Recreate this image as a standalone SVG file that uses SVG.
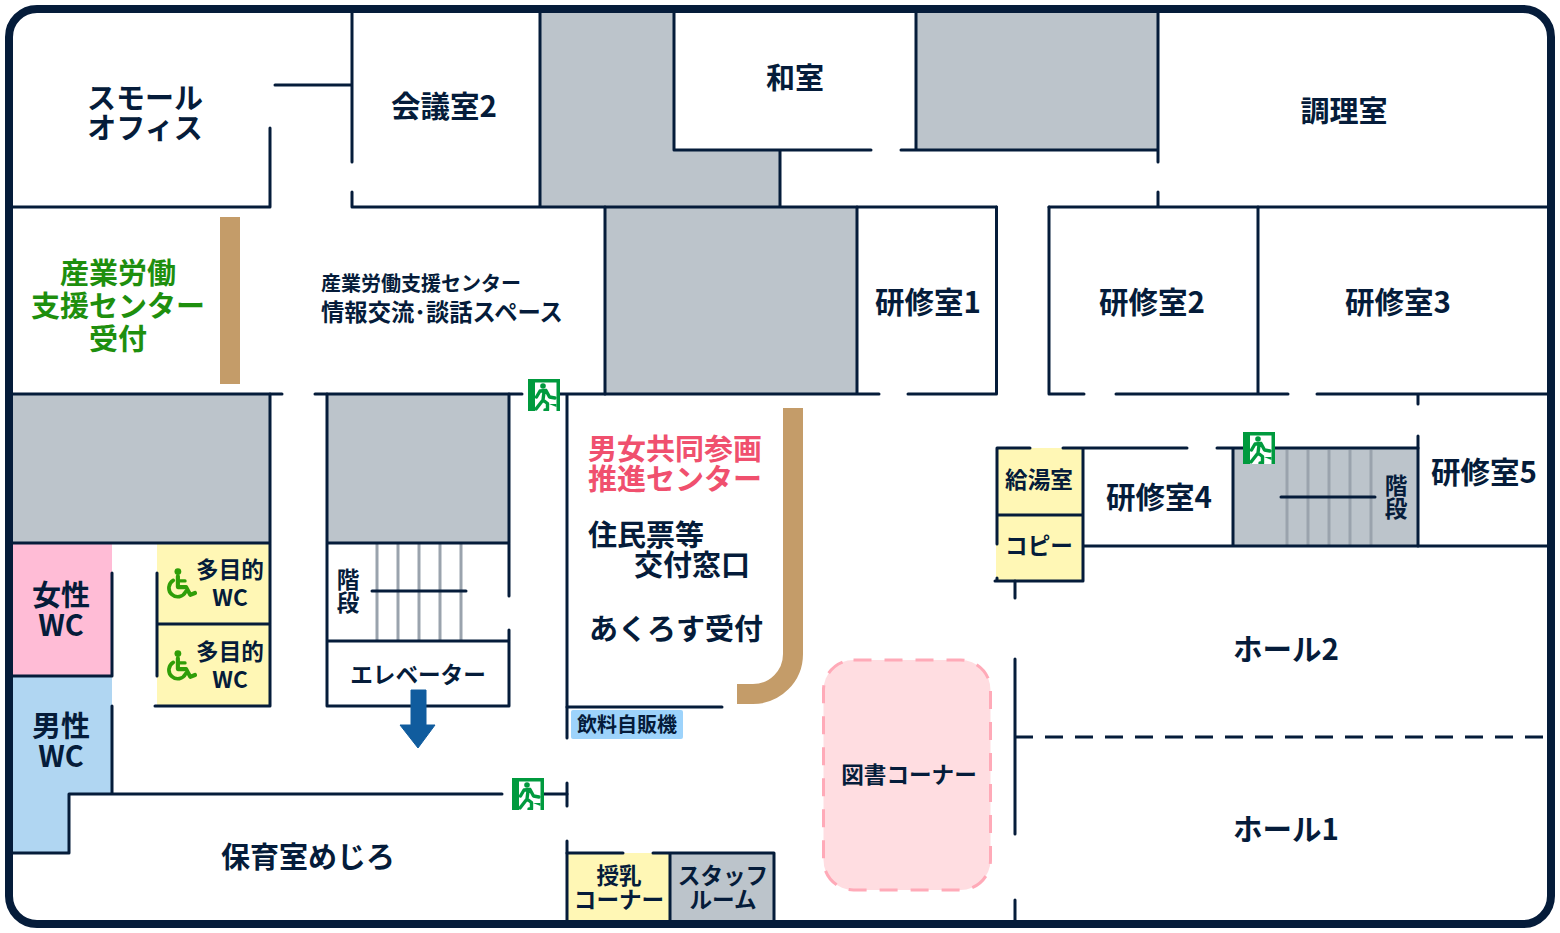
<svg xmlns="http://www.w3.org/2000/svg" width="1560" height="933" viewBox="0 0 1560 933">
<defs>
<style>
text{font-family:"Noto Sans CJK JP","Noto Sans",sans-serif;font-weight:700;fill:#051c3a;text-anchor:middle}
.w{stroke:#051c3a;stroke-width:3;stroke-linecap:round;fill:none}
.s{stroke:#9aa3ad;stroke-width:3;fill:none}
.g{fill:#bcc4cb}.y{fill:#fff7b5}
.t28{font-size:29px}.n28{font-size:29.500px}.t22{font-size:22.600px}.t20{font-size:20px}.t18{font-size:20px}
.gr{fill:#1e8f0e}.pk{fill:#f0506e}
</style>
<symbol id="exit" viewBox="0 0 32 32">
<rect width="32" height="32" fill="#009a3e"/>
<path d="M7 32V3.500H28.500V32z" fill="#fff"/>
<circle cx="15" cy="7" r="2.800" fill="#009a3e"/>
<path d="M18 11.500l-6 .5-3.500 6M18 11.500l3.500 6.500 5.500 1M16 13l-1 8 4.500 3.500V31h-2.500M15 21l-3.500 4.500L8 30" fill="none" stroke="#009a3e" stroke-width="3.400" stroke-linecap="round" stroke-linejoin="round"/>
<path d="M21 25h7.500v3z" fill="#009a3e"/>
</symbol>
<symbol id="wheel" viewBox="0 0 30 30">
<circle cx="11.500" cy="3.500" r="3.300" fill="#2f9e08"/>
<path d="M11.500 8v10.500h8l4 7.500 4.500-1.800" fill="none" stroke="#2f9e08" stroke-width="4" stroke-linecap="round" stroke-linejoin="round"/>
<path d="M11.500 12.500h7" fill="none" stroke="#2f9e08" stroke-width="3" stroke-linecap="round"/>
<path d="M7 12a8.500 8.500 0 1 0 12 11" fill="none" stroke="#2f9e08" stroke-width="3.600" stroke-linecap="round"/>
</symbol>
</defs>
<rect width="1560" height="933" fill="#fff"/>
<g id="fills">
<path class="g" d="M540 9H674V150H780V207H540z"/>
<rect class="g" x="916" y="9" width="242" height="141"/>
<rect class="g" x="605" y="207" width="252" height="187"/>
<rect class="g" x="9" y="394" width="261" height="149"/>
<rect class="g" x="327" y="394" width="182" height="149"/>
<rect fill="#ffbcd6" x="9" y="543" width="103" height="133"/>
<path fill="#b0d6f2" d="M9 676H112V794H69V853H9z"/>
<rect class="y" x="157" y="543" width="113" height="163"/>
<rect class="y" x="996" y="448" width="87" height="133"/>
<rect class="g" x="1233" y="448" width="185" height="98"/>
<rect class="y" x="567" y="853" width="103" height="67"/>
<rect class="g" x="670" y="853" width="104" height="67"/>
<rect fill="#c49c69" x="220" y="217" width="20" height="167"/>
<path d="M793 408V654A40 40 0 0 1 753 694H737" fill="none" stroke="#c49c69" stroke-width="20"/>
</g>
<g id="library"><rect x="823.500" y="660" width="167" height="230" rx="30" fill="#ffdde1" stroke="#ffaab8" stroke-width="3" stroke-dasharray="18 13"/></g>
<g id="vending"><rect x="571" y="710" width="112" height="29" rx="2" fill="#9dd3fb"/></g>
<g id="stairs" class="s"><path d="M377 544V640M398 544V640M419 544V640M440 544V640M461 544V640M1287 450V545M1308 450V545M1329 450V545M1350 450V545M1371 450V545"/></g>
<g id="connectors" class="w">
<path d="M275 85H352M352 9V162M352 192V207M270 128V207M9 207H270M352 207H996.500M540 9V207M674 9V150M674 150H871M901 150H1158M780 150V207M916 9V150M1158 9V162M1158 192V207M1049 207H1551"/>
<path d="M605 207V394M857 207V394M996.500 207V394M605 394H879M908 394H996.500M1049 207V394M1049 394H1084M1116 394H1288M1258 207V394M1317 394H1551M1418 394V404M1418 436V546"/>
<path d="M9 394H282M315 394H522M560 394H605M567 394V738M567 783V806M567 841V920"/>
<path d="M270 394V706M9 543H270M9 676H112M112 573V676M157 573V676M157 624H270M155 706H270M112 706V794M69 794V853M9 853H69M69 794H502M544 794H567"/>
<path d="M327 394V706M509 394V596M509 630V706M327 543H509M327 641H509M327 706H509M372 591H466"/>
<path d="M567 707H722M567 853H623M653 853H774M670 853V920M774 853V920"/>
<path d="M1015 581V598M1015 659V834M1015 900V920"/>
<path d="M1015 737H1551" stroke-dasharray="18 12" stroke-linecap="butt"/>
<path d="M997 448H1030M1063 448H1187M1217 448H1418M997 448V544M997 578V581M1083 448V581M997 515H1083M995 581H1083M1083 546H1551M1233 448V546M1281 497H1375"/>
</g>
<g id="frame"><rect x="9" y="9" width="1542" height="915" rx="28" fill="none" stroke="#051c3a" stroke-width="8"/></g>
<path id="arrow" d="M411 690H426V725H435L418 748L400 725H411z" fill="#105c9e" stroke="#105c9e" stroke-width="1" stroke-linejoin="round"/>
<use href="#exit" x="528" y="379" width="32" height="32"/>
<use href="#exit" x="1243" y="432" width="32" height="32"/>
<use href="#exit" x="512" y="778" width="32" height="32"/>
<use href="#wheel" x="166" y="568" width="31" height="31"/>
<use href="#wheel" x="166" y="650" width="31" height="31"/>
<g id="labels">
<text id="small-office" class="t28" x="145" y="109">スモール<tspan x="145" dy="30">オフィス</tspan></text>
<text id="kaigi2" class="n28" x="444" y="117">会議室2</text>
<text id="washitsu" class="t28" x="795" y="89">和室</text>
<text id="chori" class="t28" x="1344" y="122">調理室</text>
<text id="uketsuke" class="t28 gr" x="118" y="284">産業労働<tspan x="118" dy="33">支援センター</tspan><tspan x="118" dy="33">受付</tspan></text>
<text class="t20" x="421" y="291">産業労働支援センター</text>
<text style="font-size:23.300px" x="442" y="321">情報交流･談話スペース</text>
<text class="n28" x="928" y="313">研修室1</text>
<text class="n28" x="1152" y="313">研修室2</text>
<text class="n28" x="1398" y="313">研修室3</text>
<text class="n28" x="1484" y="483">研修室5</text>
<text class="n28" x="1159" y="508">研修室4</text>
<text class="t22" x="1039" y="488">給湯室</text>
<text class="t22" x="1039" y="554">コピー</text>
<text class="t22" x="1396" y="494">階<tspan x="1396" dy="23">段</tspan></text>
<text class="t22" x="348" y="588">階<tspan x="348" dy="23">段</tspan></text>
<text class="t22" x="418" y="683">エレベーター</text>
<text id="wc-f" class="t28" x="61" y="606">女性<tspan x="61" dy="30">WC</tspan></text>
<text id="wc-m" class="t28" x="61" y="737">男性<tspan x="61" dy="30">WC</tspan></text>
<text class="t22" x="230" y="578">多目的<tspan x="230" dy="28">WC</tspan></text>
<text class="t22" x="230" y="660">多目的<tspan x="230" dy="28">WC</tspan></text>
<text class="t28 pk" x="675" y="460">男女共同参画<tspan x="675" dy="30">推進センター</tspan></text>
<text class="t28" x="646" y="546">住民票等</text>
<text class="t28" x="692" y="576">交付窓口</text>
<text class="t28" x="676" y="640">あくろす受付</text>
<text class="t18" x="627" y="732">飲料自販機</text>
<text class="t22" x="909" y="783">図書コーナー</text>
<text class="n28" x="1286" y="660">ホール2</text>
<text class="n28" x="1286" y="840">ホール1</text>
<text class="t28" x="308" y="868">保育室めじろ</text>
<text class="t22" x="619" y="884">授乳<tspan x="619" dy="24">コーナー</tspan></text>
<text class="t22" x="723" y="884">スタッフ<tspan x="723" dy="24">ルーム</tspan></text>
</g>
</svg>
